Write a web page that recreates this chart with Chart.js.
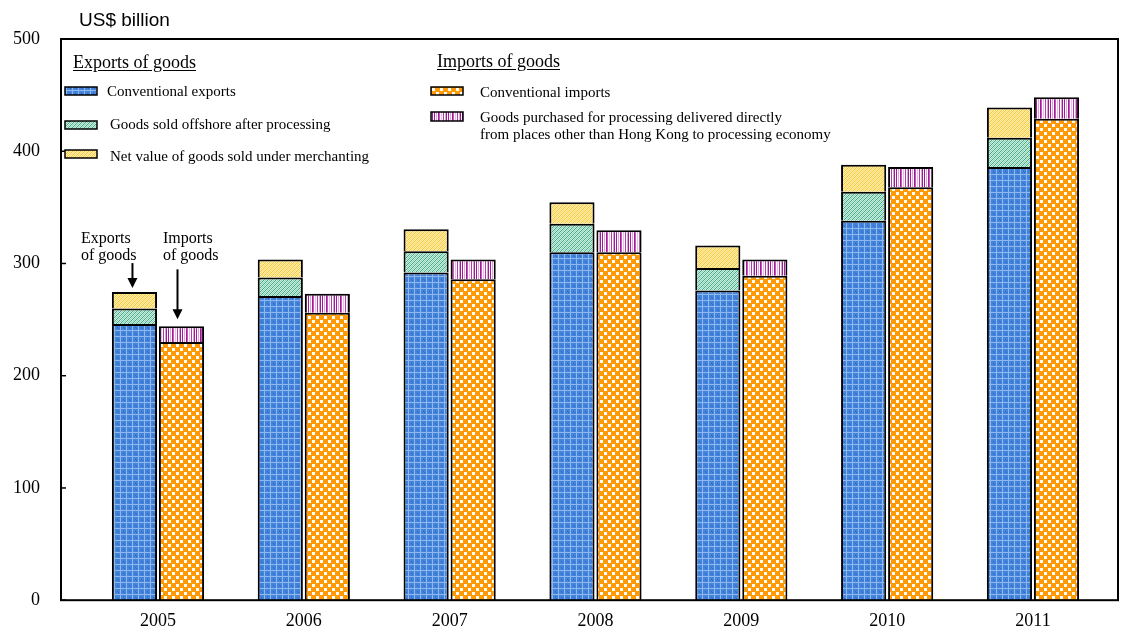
<!DOCTYPE html>
<html>
<head>
<meta charset="utf-8">
<script src="https://cdn.jsdelivr.net/npm/chart.js@4.4.0/dist/chart.umd.min.js"></script>
<style>
html, body { margin: 0; padding: 0; background: #fff; }
#wrap { position: relative; width: 1122px; height: 632px; }
#wrap canvas { position: absolute; left: 0; top: 0; }
.t { position: absolute; font-family: 'Liberation Serif', 'Times New Roman', serif; color: #000; white-space: nowrap; line-height: 1; }
.h { font-size: 18px; text-decoration: underline; text-underline-offset: 2px; }
.i { font-size: 15px; }
.n { font-size: 16px; line-height: 17px; }
</style>
</head>
<body>
<div id="wrap">
  <canvas id="myChart" width="1122" height="632"></canvas>
  <div class="t" style="left:79px;top:10px;font-family:'Liberation Sans',Arial,sans-serif;font-size:19px;">US$ billion</div>

  <div class="t h" style="left:73px;top:53px;">Exports of goods</div>
  <div class="t i" style="left:107px;top:84px;">Conventional exports</div>
  <div class="t i" style="left:110px;top:117px;">Goods sold offshore after processing</div>
  <div class="t i" style="left:110px;top:149px;">Net value of goods sold under merchanting</div>

  <div class="t h" style="left:437px;top:52px;">Imports of goods</div>
  <div class="t i" style="left:480px;top:85px;">Conventional imports</div>
  <div class="t i" style="left:480px;top:109px;line-height:17px;">Goods purchased for processing delivered directly<br>from places other than Hong Kong to processing economy</div>

  <div class="t n" style="left:81px;top:229px;">Exports<br>of goods</div>
  <div class="t n" style="left:163px;top:229px;">Imports<br>of goods</div>
</div>

<script>
// Datos (US$ mil millones)
const years = [2005, 2006, 2007, 2008, 2009, 2010, 2011];
const conventionalExports = [246, 271, 292, 310, 276, 338, 386];
const offshoreProcessing = [14, 16.5, 19, 25.5, 20, 26, 26];
const merchanting = [14.5, 16, 19.5, 19, 20, 24, 27];
const conventionalImports = [230, 256, 286, 310, 289, 368, 429];
const processingDirect = [14, 17, 17.5, 19.5, 14.5, 18, 19];
const yTicks = [0, 100, 200, 300, 400, 500];

// Tramas de relleno
function makePattern(w, h, draw) {
  const c = document.createElement('canvas');
  c.width = w; c.height = h;
  const g = c.getContext('2d');
  draw(g);
  return g.createPattern(c, 'repeat');
}
function px(g, color, pts) {
  g.fillStyle = color;
  pts.forEach(p => g.fillRect(p[0], p[1], 1, 1));
}

const pBlue = makePattern(6, 6, g => {
  g.fillStyle = '#4383da'; g.fillRect(0, 0, 6, 6);
  g.fillStyle = '#8fb8ef'; g.fillRect(0, 0, 6, 1); g.fillRect(0, 0, 1, 6);
  px(g, '#3069c6', [[3, 3], [4, 4]]);
});
const pGreen = makePattern(4, 4, g => {
  g.fillStyle = '#cbecdf'; g.fillRect(0, 0, 4, 4);
  px(g, '#3fae88', [[0, 3], [1, 2], [2, 1], [3, 0]]);
  px(g, '#8fd1b8', [[0, 1], [1, 0], [2, 3], [3, 2]]);
});
const pYellow = makePattern(4, 4, g => {
  g.fillStyle = '#ffefb0'; g.fillRect(0, 0, 4, 4);
  px(g, '#f9c52e', [[0, 3], [1, 2], [2, 1], [3, 0]]);
  px(g, '#fddb72', [[0, 1], [1, 0], [2, 3], [3, 2]]);
});
const pOrange = makePattern(8, 8, g => {
  g.fillStyle = '#ff9a05'; g.fillRect(0, 0, 8, 8);
  g.fillStyle = '#ffffff'; g.fillRect(0, 0, 3, 3); g.fillRect(4, 4, 3, 3);
});
const pPurple = makePattern(14, 1, g => {
  const seq = ['#a3189a', '#ffffff', '#dba6d6', '#ffffff', '#a3189a', '#c25cb9', '#ffffff',
               '#e7bde3', '#ffffff', '#b43aab', '#ffffff', '#dba6d6', '#a3189a', '#ffffff'];
  seq.forEach((col, i) => { g.fillStyle = col; g.fillRect(i, 0, 1, 1); });
});

const pts = arr => years.map((x, i) => ({ x: x, y: arr[i] }));

const barStyle = { borderColor: '#000', borderWidth: 2, categoryPercentage: 0.645, barPercentage: 0.96 };

// Marco, marcas interiores, flechas y muestras de leyenda
const decor = {
  id: 'decor',
  afterDatasetsDraw(chart) {
    const { ctx, chartArea: a, scales } = chart;
    ctx.save();
    ctx.strokeStyle = '#000';
    ctx.fillStyle = '#000';
    ctx.lineWidth = 2;
    ctx.strokeRect(a.left, a.top, a.right - a.left, a.bottom - a.top);
    ctx.lineWidth = 1.5;
    yTicks.forEach(v => {
      const y = scales.y.getPixelForValue(v);
      ctx.beginPath(); ctx.moveTo(a.left, y); ctx.lineTo(a.left + 5, y); ctx.stroke();
    });

    function arrow(x, y0, y1) {
      ctx.lineWidth = 2;
      ctx.beginPath(); ctx.moveTo(x, y0); ctx.lineTo(x, y1 - 6); ctx.stroke();
      ctx.beginPath(); ctx.moveTo(x - 5, y1 - 10); ctx.lineTo(x + 5, y1 - 10); ctx.lineTo(x, y1); ctx.closePath(); ctx.fill();
    }
    const ex = chart.getDatasetMeta(2).data[0];
    const im = chart.getDatasetMeta(4).data[0];
    arrow(ex.x - 2, ex.y - 29, ex.y - 4);
    arrow(im.x - 4, im.y - 57, im.y - 7);

    function swatch(x, y, w, h, fill) {
      ctx.fillStyle = fill; ctx.fillRect(x, y, w, h);
      ctx.lineWidth = 1.5; ctx.strokeStyle = '#000'; ctx.strokeRect(x, y, w, h);
    }
    swatch(65, 87, 32, 8, pBlue);
    swatch(65, 121, 32, 8, pGreen);
    swatch(65, 150, 32, 8, pYellow);
    swatch(431, 87, 32, 8, pOrange);
    swatch(431, 112, 32, 9, pPurple);
    ctx.restore();
  }
};

const canvas = document.getElementById('myChart');
const ctx = canvas.getContext('2d');
const chart = new Chart(ctx, {
  type: 'bar',
  data: {
    datasets: [
      { label: 'Conventional exports', data: pts(conventionalExports), stack: 'exp', backgroundColor: pBlue, ...barStyle },
      { label: 'Goods sold offshore after processing', data: pts(offshoreProcessing), stack: 'exp', backgroundColor: pGreen, ...barStyle },
      { label: 'Net value of goods sold under merchanting', data: pts(merchanting), stack: 'exp', backgroundColor: pYellow, ...barStyle },
      { label: 'Conventional imports', data: pts(conventionalImports), stack: 'imp', backgroundColor: pOrange, ...barStyle },
      { label: 'Goods purchased for processing delivered directly from places other than Hong Kong to processing economy', data: pts(processingDirect), stack: 'imp', backgroundColor: pPurple, ...barStyle }
    ]
  },
  options: {
    responsive: false,
    animation: false,
    devicePixelRatio: 1,
    layout: { padding: { top: 39, right: 4, left: 0, bottom: 0 } },
    plugins: { legend: { display: false }, tooltip: { enabled: false } },
    scales: {
      x: {
        type: 'linear',
        offset: false,
        stacked: true,
        min: 2004.335,
        max: 2011.583,
        grid: { display: false, drawTicks: false, offset: false },
        border: { display: false },
        afterBuildTicks: axis => { axis.ticks = years.map(v => ({ value: v })); },
        afterFit: s => { s.height = 31; },
        ticks: {
          padding: 10,
          color: '#000',
          font: { family: "'Liberation Serif', 'Times New Roman', serif", size: 18 },
          callback: v => String(v)
        }
      },
      y: {
        stacked: true,
        min: 0,
        max: 500,
        grid: { display: false, drawTicks: false },
        border: { display: false },
        afterFit: s => { s.width = 61; },
        ticks: {
          stepSize: 100,
          padding: 21,
          color: '#000',
          font: { family: "'Liberation Serif', 'Times New Roman', serif", size: 18 }
        }
      }
    }
  },
  plugins: [decor]
});
</script>
</body>
</html>
